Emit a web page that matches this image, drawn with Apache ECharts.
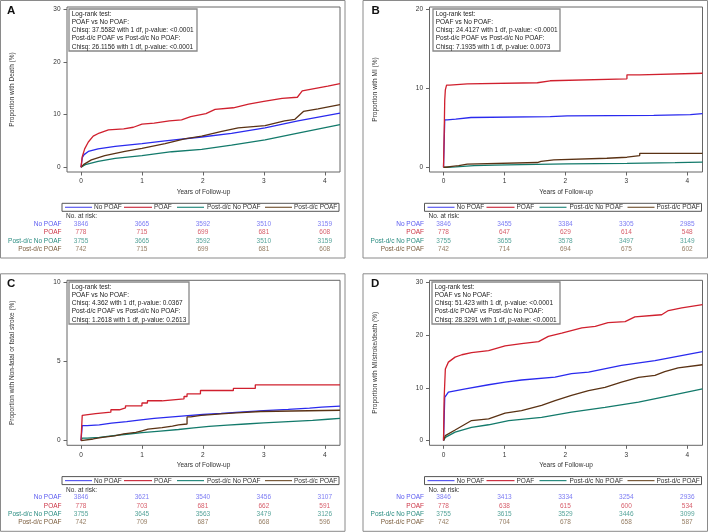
<!DOCTYPE html>
<html><head><meta charset="utf-8">
<script src="https://cdn.jsdelivr.net/npm/echarts@6/dist/echarts.min.js"></script>
<style>html,body{margin:0;padding:0;background:#fff}#c{width:709px;height:532px}</style>
</head><body><div id="c"></div>
<script>
// ---------- shared ----------
const groups = ['No POAF', 'POAF', 'Post-d/c No POAF', 'Post-d/c POAF'];
const xTicks = [0, 1, 2, 3, 4];
const xTitle = 'Years of Follow-up';

// ---------- Panel A: Death ----------
const deathNoPOAF = [[0,0],[0.02,1.8],[0.05,2.4],[0.12,3.0],[0.28,3.5],[0.56,3.95],[1.0,4.5],[1.38,5.0],[1.98,5.75],[2.47,6.45],[3.02,7.5],[3.56,8.8],[4.25,10.3]];
const deathPOAF = [[0,0],[0.02,2.0],[0.06,3.5],[0.12,4.8],[0.2,5.9],[0.3,6.5],[0.45,7.1],[0.7,7.3],[0.86,7.6],[1.0,8.2],[1.2,8.4],[1.45,8.8],[1.65,9.0],[1.8,9.6],[2.05,10.2],[2.2,11.0],[2.5,11.3],[2.75,12.0],[3.0,12.5],[3.3,13.1],[3.55,13.3],[3.63,14.5],[3.85,15.0],[4.05,15.4],[4.25,15.9]];
const deathPdcNo = [[0,0],[0.07,0.5],[0.28,1.1],[0.56,1.7],[1.0,2.2],[1.49,2.95],[1.98,3.4],[2.47,4.2],[3.02,5.2],[3.56,6.5],[4.25,8.1]];
const deathPdcPOAF = [[0,0],[0.04,0.5],[0.17,1.4],[0.39,2.2],[0.72,3.0],[1.0,3.6],[1.38,4.5],[1.7,5.4],[1.98,5.9],[2.31,6.8],[2.58,7.5],[3.02,7.9],[3.34,8.8],[3.51,9.1],[3.65,10.6],[3.89,11.1],[4.25,11.9]];
const deathYTicks = [0, 10, 20, 30];
const deathRisk = [[3846,3665,3592,3510,3159],[778,715,699,681,608],[3755,3665,3592,3510,3159],[742,715,699,681,608]];
const deathStats = ['Log-rank test:', 'POAF vs No POAF:', 'Chisq: 37.5582 with 1 df, p-value: <0.0001', 'Post-d/c POAF vs Post-d/c No POAF:', 'Chisq: 26.1156 with 1 df, p-value: <0.0001'];

// ---------- Panel B: MI ----------
const miNoPOAF = [[0,0],[0.01,3],[0.02,6.0],[0.06,6.1],[0.2,6.3],[0.45,6.4],[1.75,6.5],[2.03,6.58],[3.45,6.67],[4.05,6.8],[4.25,6.8]];
const miPOAF = [[0,0],[0.01,4],[0.02,8.5],[0.03,9.8],[0.05,10.4],[0.1,10.55],[0.39,10.7],[1.54,10.95],[1.75,11.2],[3.01,11.7],[3.22,11.9],[4.25,11.9]];
const miPdcNo = [[0,0],[0.06,0.05],[0.2,0.2],[0.5,0.28],[0.84,0.34],[1.28,0.42],[2.03,0.5],[3.01,0.58],[3.8,0.65],[4.25,0.65]];
const miPdcPOAF = [[0,0],[0.04,0.1],[0.14,0.2],[0.25,0.4],[0.39,0.6],[1.54,0.75],[1.6,0.93],[1.81,1.14],[2.68,1.27],[3.01,1.48],[3.22,1.77],[4.25,1.77]];
const miYTicks = [0, 10, 20];
const miRisk = [[3846,3455,3384,3305,2985],[778,647,629,614,548],[3755,3655,3578,3497,3149],[742,714,694,675,602]];
const miStats = ['Log-rank test:', 'POAF vs No POAF:', 'Chisq: 24.4127 with 1 df, p-value: <0.0001', 'Post-d/c POAF vs Post-d/c No POAF:', 'Chisq: 7.1935 with 1 df, p-value: 0.0073'];

// ---------- Panel C: Stroke ----------
const strokeNoPOAF = [[0,0],[0.02,0.95],[0.1,1.0],[0.3,1.1],[0.5,1.2],[0.75,1.3],[0.95,1.4],[1.2,1.5],[1.5,1.58],[1.75,1.65],[2.0,1.72],[2.3,1.8],[2.6,1.9],[3.0,1.97],[3.4,2.05],[3.75,2.12],[3.95,2.18],[4.25,2.18]];
const strokePOAF = [[0,0],[0.02,1.6],[0.05,1.7],[0.24,1.8],[0.49,1.95],[0.63,2.07],[0.73,2.2],[1.0,2.38],[1.09,2.52],[1.33,2.64],[1.69,2.79],[1.74,2.96],[1.96,3.17],[2.5,3.3],[2.86,3.53],[4.25,3.53]];
const strokePdcNo = [[0,0],[0.02,0.15],[0.1,0.2],[0.3,0.3],[0.5,0.4],[0.75,0.5],[1.0,0.6],[1.3,0.7],[1.6,0.8],[1.85,0.9],[2.1,0.98],[2.4,1.05],[2.7,1.12],[3.0,1.2],[3.4,1.28],[3.8,1.35],[4.05,1.4],[4.25,1.4]];
const strokePdcPOAF = [[0,0],[0.03,0.1],[0.2,0.2],[0.35,0.3],[0.55,0.42],[0.7,0.52],[0.9,0.62],[1.0,0.72],[1.1,0.82],[1.33,0.92],[1.5,1.0],[1.6,1.05],[1.74,1.5],[1.8,1.6],[1.97,1.69],[2.3,1.75],[2.55,1.84],[2.95,1.92],[4.25,1.92]];
const strokeYTicks = [0, 5, 10];
const strokeRisk = [[3846,3621,3540,3456,3107],[778,703,681,662,591],[3755,3645,3563,3479,3126],[742,709,687,668,596]];
const strokeStats = ['Log-rank test:', 'POAF vs No POAF:', 'Chisq: 4.362 with 1 df, p-value: 0.0367', 'Post-d/c POAF vs Post-d/c No POAF:', 'Chisq: 1.2618 with 1 df, p-value: 0.2613'];

// ---------- Panel D: MI/stroke/death ----------
const compNoPOAF = [[0,0],[0.01,4],[0.02,8.2],[0.08,9.2],[0.36,9.8],[0.74,10.6],[1.01,11.1],[1.28,11.5],[1.83,12.05],[2.1,12.7],[2.38,13.0],[2.92,14.3],[3.47,15.2],[4.25,16.9]];
const compPOAF = [[0,0],[0.01,8],[0.03,13.6],[0.08,14.9],[0.19,15.85],[0.3,16.3],[0.46,16.7],[0.74,17.1],[1.01,18.0],[1.28,18.4],[1.56,18.8],[1.72,19.8],[1.94,20.4],[2.27,21.4],[2.49,21.7],[2.7,22.4],[2.98,22.6],[3.14,23.5],[3.47,23.8],[3.58,23.9],[3.69,24.7],[3.91,25.2],[4.25,25.8]];
const compPdcNo = [[0,0],[0.03,0.6],[0.19,1.6],[0.46,2.5],[0.74,3.0],[1.07,3.8],[1.61,4.4],[2.1,5.4],[2.65,6.3],[3.2,7.3],[3.74,8.6],[4.25,9.8]];
const compPdcPOAF = [[0,0],[0.03,0.95],[0.19,2.0],[0.46,3.8],[0.74,4.1],[1.01,5.2],[1.28,5.7],[1.61,6.7],[1.83,7.6],[2.1,8.6],[2.38,9.5],[2.65,10.1],[2.92,11.1],[3.2,12.0],[3.47,12.4],[3.63,13.1],[3.85,13.8],[4.25,14.4]];
const compYTicks = [0, 10, 20, 30];
const compRisk = [[3846,3413,3334,3254,2936],[778,638,615,600,534],[3755,3615,3529,3446,3099],[742,704,678,658,587]];
const compStats = ['Log-rank test:', 'POAF vs No POAF:', 'Chisq: 51.423 with 1 df, p-value: <0.0001', 'Post-d/c POAF vs Post-d/c No POAF:', 'Chisq: 28.3291 with 1 df, p-value: <0.0001'];

// ---------- styling ----------
const FONT = '"Liberation Sans", Arial, sans-serif';
const lineColors = ['#2a2aee', '#d0202e', '#137a6b', '#5a3214'];
const textColors = ['#5a5af0', '#cc3344', '#2a8c80', '#7a5c3c'];
const FS = 6.5;

const panels = [
  {letter:'A', ox:0, oy:0, lx:7, yTitle:'Proportion with Death (%)', yMin:-0.9, yMax:30.44, yTicks:deathYTicks,
   data:[deathNoPOAF, deathPOAF, deathPdcNo, deathPdcPOAF], risk:deathRisk, stats:deathStats, step:false, box:[69,9,128]},
  {letter:'B', ox:362.5, oy:0, lx:371.5, yTitle:'Proportion with MI (%)', yMin:-0.6, yMax:20.29, yTicks:miYTicks,
   data:[miNoPOAF, miPOAF, miPdcNo, miPdcPOAF], risk:miRisk, stats:miStats, step:true, box:[433,9,127]},
  {letter:'C', ox:0, oy:273.3, lx:7, yTitle:'Proportion with Non-fatal or fatal stroke (%)', yMin:-0.3, yMax:10.15, yTicks:strokeYTicks,
   data:[strokeNoPOAF, strokePOAF, strokePdcNo, strokePdcPOAF], risk:strokeRisk, stats:strokeStats, step:true, box:[69,282,120]},
  {letter:'D', ox:362.5, oy:273.3, lx:371, yTitle:'Proportion with MI/stroke/death (%)', yMin:-0.9, yMax:30.44, yTicks:compYTicks,
   data:[compNoPOAF, compPOAF, compPdcNo, compPdcPOAF], risk:compRisk, stats:compStats, step:false, box:[432,282,128]}
];

const grid = [], xAxis = [], yAxis = [], series = [], graphic = [];
const XMIN = -0.23, XMAX = 4.25;
const legendLines = [[65,92],[124,152],[177,204],[265,292]];
const legendTextX = [94,154,207,294];

panels.forEach((p, pi) => {
  const gPlot = grid.length;
  grid.push({left:67+p.ox, top:7+p.oy, width:273, height:165, show:true, borderColor:'#666', borderWidth:1, backgroundColor:'transparent'});
  xAxis.push({gridIndex:gPlot, type:'value', min:XMIN, max:XMAX, position:'bottom',
    name:xTitle, nameLocation:'middle', nameGap:16.5, nameTextStyle:{fontSize:FS, color:'#333', fontFamily:FONT},
    axisLine:{show:false, onZero:false}, splitLine:{show:false},
    axisTick:{show:true, length:3.5, lineStyle:{color:'#666'}, customValues:xTicks},
    axisLabel:{fontSize:FS, color:'#333', fontFamily:FONT, margin:6, customValues:xTicks}});
  yAxis.push({gridIndex:gPlot, type:'value', min:p.yMin, max:p.yMax, position:'left',
    name:p.yTitle, nameLocation:'middle', nameGap:51, nameRotate:90, nameTextStyle:{fontSize:FS, color:'#333', fontFamily:FONT},
    axisLine:{show:false, onZero:false}, splitLine:{show:false},
    axisTick:{show:true, length:3.5, lineStyle:{color:'#666'}, customValues:p.yTicks},
    axisLabel:{fontSize:FS, color:'#333', fontFamily:FONT, margin:6.5, customValues:p.yTicks}});
  p.data.forEach((d, si) => {
    series.push({type:'line', name:groups[si], xAxisIndex:gPlot, yAxisIndex:gPlot, data:d,
      step:p.step ? 'end' : false, showSymbol:false, symbol:'none', silent:true,
      lineStyle:{color:lineColors[si], width:1.3}, itemStyle:{color:lineColors[si]}, z:3 + (si === 1 ? 1 : 0)});
  });
  // at-risk table grid
  const gRisk = grid.length;
  grid.push({left:67+p.ox, top:220.2+p.oy, width:273, height:33.3, show:false});
  xAxis.push({gridIndex:gRisk, type:'value', min:XMIN, max:XMAX, show:false});
  const rich = {};
  textColors.forEach((c, i) => { rich['r'+i] = {color:c, fontSize:FS, fontFamily:FONT}; });
  yAxis.push({gridIndex:gRisk, type:'category', data:groups, inverse:true,
    axisLine:{show:false}, axisTick:{show:false}, splitLine:{show:false},
    axisLabel:{interval:0, margin:5.5, fontSize:FS, fontFamily:FONT, formatter:(v, i) => '{r'+i+'|'+v+'}', rich:rich}});
  p.risk.forEach((row, ri) => {
    series.push({type:'scatter', xAxisIndex:gRisk, yAxisIndex:gRisk, silent:true, symbolSize:1,
      itemStyle:{color:'rgba(0,0,0,0)'},
      data:xTicks.map((x, k) => [x, groups[ri], row[k]]),
      label:{show:true, position:'inside', formatter:q => String(q.value[2]), color:textColors[ri], fontSize:FS, fontFamily:FONT}});
  });
  // outer frame
  graphic.push({type:'rect', shape:{x:0.5+p.ox, y:0.5+p.oy, width:344.5, height:257.5}, style:{fill:'none', stroke:'#8a8a8a', lineWidth:1}, silent:true});
  // letter
  graphic.push({type:'text', x:p.lx, y:11+p.oy, style:{text:p.letter, font:'bold 11.5px '+FONT, fill:'#111', textVerticalAlign:'middle'}, silent:true});
  // stats box
  const [bx, by, bw] = p.box;
  graphic.push({type:'rect', shape:{x:bx, y:by, width:bw, height:42}, style:{fill:'#fff', stroke:'#888', lineWidth:1.3}, z:10, silent:true});
  p.stats.forEach((t, i) => {
    graphic.push({type:'text', x:bx+2.7, y:by+5+i*8.2, z:11, style:{text:t, font:FS+'px '+FONT, fill:'#222', textVerticalAlign:'middle'}, silent:true});
  });
  // legend
  graphic.push({type:'rect', shape:{x:62+p.ox, y:203.3+p.oy, width:277, height:8}, style:{fill:'none', stroke:'#555', lineWidth:1}, silent:true});
  legendLines.forEach((seg, i) => {
    graphic.push({type:'line', shape:{x1:seg[0]+p.ox, y1:207.3+p.oy, x2:seg[1]+p.ox, y2:207.3+p.oy}, style:{stroke:textColors[i], lineWidth:1.2}, silent:true});
    graphic.push({type:'text', x:legendTextX[i]+p.ox, y:207.5+p.oy, style:{text:groups[i], font:FS+'px '+FONT, fill:'#333', textVerticalAlign:'middle'}, silent:true});
  });
  graphic.push({type:'text', x:66+p.ox, y:216.7+p.oy, style:{text:'No. at risk:', font:FS+'px '+FONT, fill:'#333', textVerticalAlign:'middle'}, silent:true});
});

const chart = echarts.init(document.getElementById('c'), null, {renderer:'canvas'});
chart.setOption({animation:false, backgroundColor:'#fff', textStyle:{fontFamily:FONT}, grid, xAxis, yAxis, series, graphic});
</script></body></html>
